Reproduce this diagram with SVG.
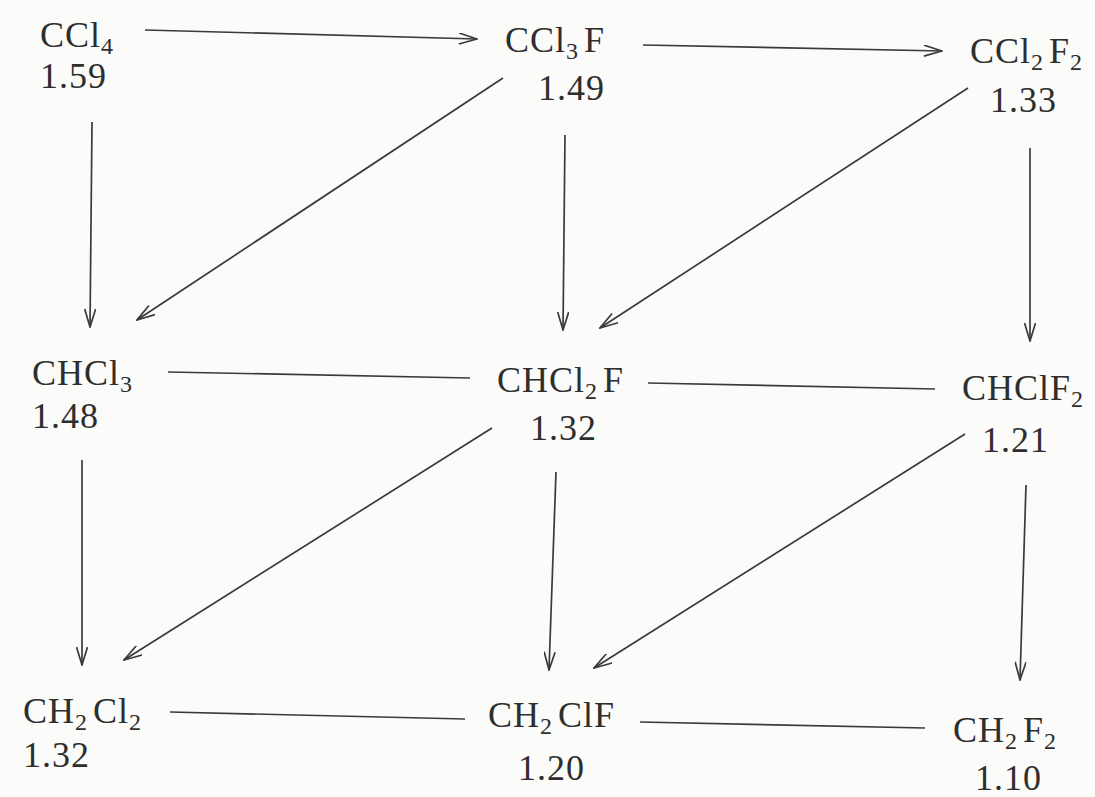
<svg xmlns="http://www.w3.org/2000/svg" width="1095" height="797" viewBox="0 0 1095 797">
<style>
text{font-family:"Liberation Serif","Times New Roman",serif;font-size:36px;letter-spacing:1px;fill:#2e2e2e}
.s{font-size:24px}
.c{stroke:#3a3a3a;stroke-width:1.7;fill:none}
</style>
<defs>
<marker id="ah" viewBox="0 0 20 12" refX="19" refY="6" markerWidth="20" markerHeight="12" markerUnits="userSpaceOnUse" orient="auto">
<path d="M1,0.5 L19,6 L1,11.5" fill="none" stroke="#3a3a3a" stroke-width="1.7"/>
</marker>
</defs>
<rect width="1095" height="797" fill="#fbfbf9"/>
<g id="connectors">
<line class="c" x1="145" y1="30" x2="477" y2="39" marker-end="url(#ah)"/>
<line class="c" x1="643" y1="45" x2="942" y2="51" marker-end="url(#ah)"/>
<line class="c" x1="92" y1="122" x2="90" y2="327" marker-end="url(#ah)"/>
<line class="c" x1="503" y1="78" x2="137" y2="320" marker-end="url(#ah)"/>
<line class="c" x1="565" y1="135" x2="563" y2="330" marker-end="url(#ah)"/>
<line class="c" x1="968" y1="88" x2="600" y2="328" marker-end="url(#ah)"/>
<line class="c" x1="1030" y1="148" x2="1030" y2="341" marker-end="url(#ah)"/>
<line class="c" x1="168" y1="372" x2="470" y2="378"/>
<line class="c" x1="648" y1="383" x2="935" y2="389"/>
<line class="c" x1="82" y1="460" x2="82" y2="665" marker-end="url(#ah)"/>
<line class="c" x1="492" y1="428" x2="124" y2="660" marker-end="url(#ah)"/>
<line class="c" x1="556" y1="472" x2="549" y2="670" marker-end="url(#ah)"/>
<line class="c" x1="965" y1="434" x2="594" y2="668" marker-end="url(#ah)"/>
<line class="c" x1="1026" y1="485" x2="1020" y2="680" marker-end="url(#ah)"/>
<line class="c" x1="170" y1="712" x2="465" y2="719"/>
<line class="c" x1="640" y1="722" x2="925" y2="728"/>
</g>
<g id="n-CCl4"><text x="40" y="47">CCl<tspan class="s" dy="7">4</tspan></text><text x="40" y="88">1.59</text></g>
<g id="n-CCl3F"><text x="505" y="52">CCl<tspan class="s" dy="7">3</tspan><tspan dy="-7" dx="5">F</tspan></text><text x="538" y="100">1.49</text></g>
<g id="n-CCl2F2"><text x="970" y="63">CCl<tspan class="s" dy="7">2</tspan><tspan dy="-7" dx="5">F</tspan><tspan class="s" dy="7">2</tspan></text><text x="990" y="112">1.33</text></g>
<g id="n-CHCl3"><text x="32" y="385">CHCl<tspan class="s" dy="7">3</tspan></text><text x="32" y="428">1.48</text></g>
<g id="n-CHCl2F"><text x="497" y="392">CHCl<tspan class="s" dy="7">2</tspan><tspan dy="-7" dx="5">F</tspan></text><text x="530" y="440">1.32</text></g>
<g id="n-CHClF2"><text x="962" y="400">CHClF<tspan class="s" dy="7">2</tspan></text><text x="982" y="452">1.21</text></g>
<g id="n-CH2Cl2"><text x="23" y="723">CH<tspan class="s" dy="7">2</tspan><tspan dy="-7" dx="5">Cl</tspan><tspan class="s" dy="7">2</tspan></text><text x="23" y="767">1.32</text></g>
<g id="n-CH2ClF"><text x="488" y="727">CH<tspan class="s" dy="7">2</tspan><tspan dy="-7" dx="5">ClF</tspan></text><text x="518" y="780">1.20</text></g>
<g id="n-CH2F2"><text x="953" y="742">CH<tspan class="s" dy="7">2</tspan><tspan dy="-7" dx="5">F</tspan><tspan class="s" dy="7">2</tspan></text><text x="975" y="790">1.10</text></g>
</svg>
